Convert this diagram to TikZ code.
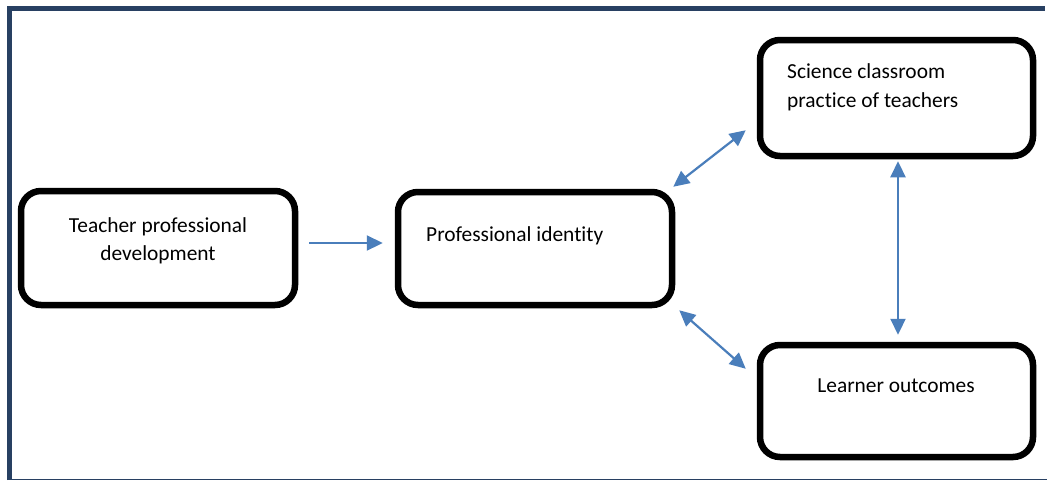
\documentclass[tikz,border=0pt]{standalone}
\usepackage{fontspec}
\setmainfont[Ligatures={NoCommon,NoContextual}]{Carlito}
\usetikzlibrary{arrows.meta,calc}
\definecolor{framecol}{RGB}{40,64,98}
\definecolor{linkcol}{RGB}{74,126,187}
\tikzset{
  box/.style={draw=black, line width=6.5pt, rounded corners=20pt, inner sep=0pt, fill=white},
  label/.style={inner sep=0pt, font=\fontsize{21.4}{28}\selectfont, text=black},
  tip/.tip={Triangle[length=16pt,width=15pt]},
  link/.style={draw=linkcol, line width=2.2pt, -tip},
  biglink/.style={draw=linkcol, line width=2.2pt, tip-tip},
}
\begin{document}
\begin{tikzpicture}[x=1pt, y=-1pt]
  \useasboundingbox[fill=white] (0,0) rectangle (1047,480);

  % page frame
  \draw[framecol, line width=5pt, line join=miter] (9.5,480) -- (9.5,8.5) -- (1045,8.5);
  \draw[framecol, line width=1.5pt] (7,479.3) -- (1047,479.3);

  % boxes
  \node[box, minimum width=274pt, minimum height=114pt] (tpd) at (158,248) {};
  \node[box, minimum width=274pt, minimum height=113pt] (pid) at (535,248.5) {};
  \node[box, minimum width=273pt, minimum height=116pt] (scp) at (896.5,98) {};
  \node[box, minimum width=273pt, minimum height=112pt] (lo)  at (896.5,401) {};

  % texts
  \node[label, anchor=base] (tpd1) at (158,232) {Teacher professional};
  \node[label, anchor=base] (tpd2) at (158,260) {development};
  \node[label, anchor=base west] (pid1) at (426,241) {Professional identity};
  \node[label, anchor=base west] (scp1) at (787,78) {Science classroom};
  \node[label, anchor=base west] (scp2) at (787,107) {practice of teachers};
  \node[label, anchor=base] (lo1) at (896,392) {Learner outcomes};

  % connectors
  \draw[link] ($(tpd.east)+(11,-5)$) -- ($(pid.west)+(-12,-5.5)$);
  \draw[biglink] ($(pid.north east)+(-2,-2)$) -- ($(scp.south west)+(-11,-29)$);
  \draw[biglink] ($(pid.south east)+(4,2)$) -- ($(lo.north west)+(-11,27)$);
  \draw[biglink] ($(scp.south)+(1.5,2)$) -- ($(lo.north)+(1.5,-7)$);
\end{tikzpicture}
\end{document}
